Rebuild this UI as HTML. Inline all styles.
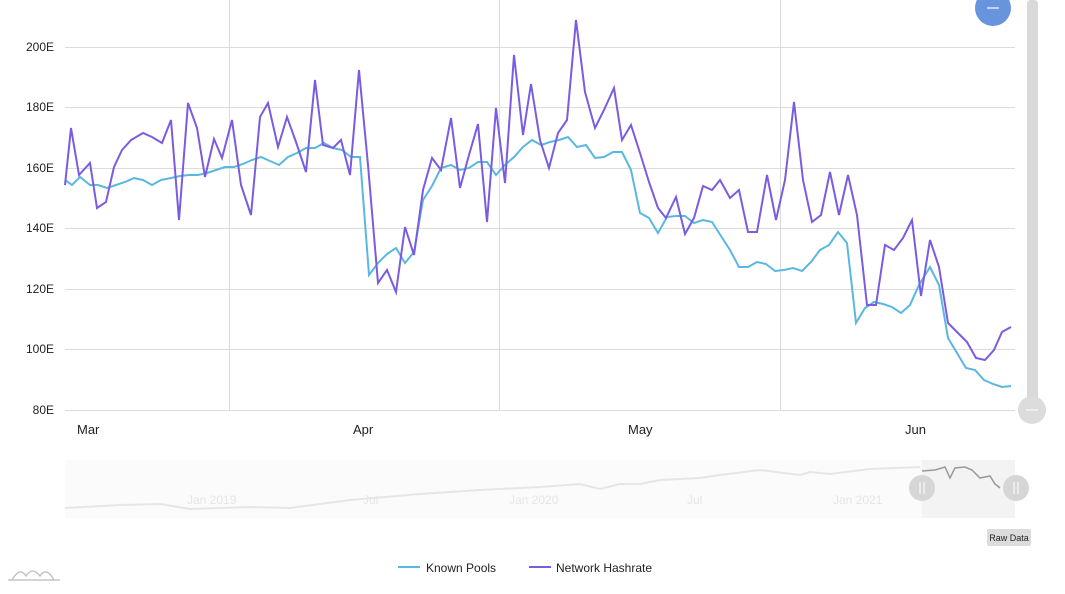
<!DOCTYPE html>
<html><head><style>
body{margin:0;background:#fff;font-family:"Liberation Sans",sans-serif;}
svg{display:block}
</style></head><body>
<svg width="1065" height="594" viewBox="0 0 1065 594" font-family="Liberation Sans, sans-serif">
<g stroke="#dcdcdc" stroke-width="1">
<line x1="65" y1="47.5" x2="1015" y2="47.5"/><line x1="65" y1="107.5" x2="1015" y2="107.5"/>
<line x1="65" y1="168.5" x2="1015" y2="168.5"/><line x1="65" y1="228.5" x2="1015" y2="228.5"/>
<line x1="65" y1="289.5" x2="1015" y2="289.5"/><line x1="65" y1="349.5" x2="1015" y2="349.5"/>
<line x1="65" y1="410.5" x2="1015" y2="410.5"/>
<line x1="229.5" y1="0" x2="229.5" y2="410"/><line x1="499.5" y1="0" x2="499.5" y2="410"/><line x1="780.5" y1="0" x2="780.5" y2="410"/>
</g>
<g font-size="12" fill="#222" text-anchor="end">
<text x="54" y="51">200E</text><text x="54" y="111">180E</text><text x="54" y="172">160E</text>
<text x="54" y="232">140E</text><text x="54" y="293">120E</text><text x="54" y="353">100E</text><text x="54" y="414">80E</text>
</g>
<g font-size="13" fill="#222">
<text x="77" y="434">Mar</text><text x="353" y="434">Apr</text><text x="628" y="434">May</text><text x="905" y="434">Jun</text>
</g>
<polyline fill="none" stroke="#5ab8e0" stroke-width="2" points="65,180 72,185 80,177 90,185 98,185 107,188 116,185 125,182 134,178 143,180 152,185 161,180 171,178 180,176 189,175 198,175 207,173 216,170 225,167 234,167 243,164 252,160 261,157 270,161 279,165 288,157 297,153 306,148 315,148 324,143 333,148 342,150 351,157 360,157 369,275 378,263 387,254 396,248 405,263 414,252 423,200 432,186 441,168 451,165 460,170 469,168 478,162 487,162 496,175 505,165 514,157 523,147 532,140 541,145 550,142 559,140 568,137 577,147 586,145 595,158 604,157 613,152 622,152 631,170 640,213 649,218 658,233 667,217 676,216 685,216 694,223 703,220 712,222 721,236 730,250 739,267 748,267 757,262 766,264 775,271 784,270 793,268 802,271 811,262 820,250 829,245 838,232 847,243 856,323 865,308 874,302 883,304 892,307 901,313 910,305 919,285 930,267 939,285 948,338 957,353 966,368 975,370 984,380 993,384 1002,387 1011,386"/>
<polyline fill="none" stroke="#7b5ce0" stroke-width="2" points="65,185 71,128 79,175 90,163 97,208 106,202 114,167 122,150 131,140 143,133 152,137 162,143 171,120 179,220 188,103 197,128 205,177 214,139 222,158 232,120 241,185 251,215 260,117 268,103 278,147 287,117 296,142 306,172 315,80 323,145 333,148 341,140 350,175 359,70 368,165 378,283 387,270 396,292 405,227 414,255 423,190 432,158 441,170 451,118 460,188 469,155 478,124 487,222 496,108 505,183 514,55 523,135 531,84 540,140 549,168 558,133 567,120 576,20 585,92 595,128 604,110 614,88 622,140 631,125 640,153 649,182 658,208 666,218 676,197 685,234 694,218 703,186 712,190 720,180 730,198 739,190 748,232 757,232 767,175 776,220 785,180 794,102 803,180 812,222 821,215 830,172 839,215 848,175 857,215 867,305 876,305 885,245 894,250 903,238 912,220 921,296 930,240 939,267 948,323 957,332 967,342 976,358 985,360 994,350 1002,332 1011,327"/>
<rect x="1027" y="0" width="11" height="402" fill="#d9d9d9" rx="4"/>
<circle cx="1032" cy="410" r="14" fill="#dcdcdc"/>
<line x1="1026" y1="410" x2="1038" y2="410" stroke="#fff" stroke-width="1"/>
<circle cx="993" cy="8" r="18" fill="#6794dc"/>
<line x1="987" y1="8" x2="999" y2="8" stroke="#fff" stroke-width="1.2"/>
<rect x="65" y="460" width="950" height="58" fill="#fbfbfb"/>
<rect x="922" y="460" width="93" height="58" fill="#f3f3f3"/>
<g font-size="12" fill="#e6e6e6">
<text x="187" y="504">Jan 2019</text><text x="363" y="504">Jul</text><text x="509" y="504">Jan 2020</text><text x="687" y="504">Jul</text><text x="833" y="504">Jan 2021</text>
</g>
<polyline fill="none" stroke="#e6e6e6" stroke-width="2" points="65,508 120,505 160,504 190,509 250,507 290,508 350,500 420,494 480,490 540,487 580,484 600,489 620,484 640,484 660,480 700,478 720,475 760,470 800,475 810,472 830,474 870,469 920,467"/>
<polyline fill="none" stroke="#999" stroke-width="1.5" points="922,471 935,470 945,467 950,478 955,468 965,467 972,470 980,478 990,476 995,484 1000,488"/>
<circle cx="922" cy="488" r="13" fill="#d6d6d6"/><circle cx="1016" cy="488" r="13" fill="#d6d6d6"/>
<g stroke="#fff" stroke-width="1"><line x1="920" y1="482" x2="920" y2="494"/><line x1="924" y1="482" x2="924" y2="494"/><line x1="1014" y1="482" x2="1014" y2="494"/><line x1="1018" y1="482" x2="1018" y2="494"/></g>
<rect x="987" y="529" width="44" height="17" fill="#dcdcdc" rx="2"/>
<text x="1009" y="541" font-size="9" fill="#222" text-anchor="middle">Raw Data</text>
<line x1="398" y1="567" x2="420" y2="567" stroke="#5ab8e0" stroke-width="2"/>
<text x="426" y="572" font-size="12" fill="#222">Known Pools</text>
<line x1="529" y1="567" x2="551" y2="567" stroke="#7b5ce0" stroke-width="2"/>
<text x="556" y="572" font-size="12" fill="#222">Network Hashrate</text>
<path d="M8,580 L60,580 M12,580 Q20,566 26,576 Q32,566 40,576 Q46,566 54,580" fill="none" stroke="#bbb" stroke-width="1.2"/>
</svg>
</body></html>
